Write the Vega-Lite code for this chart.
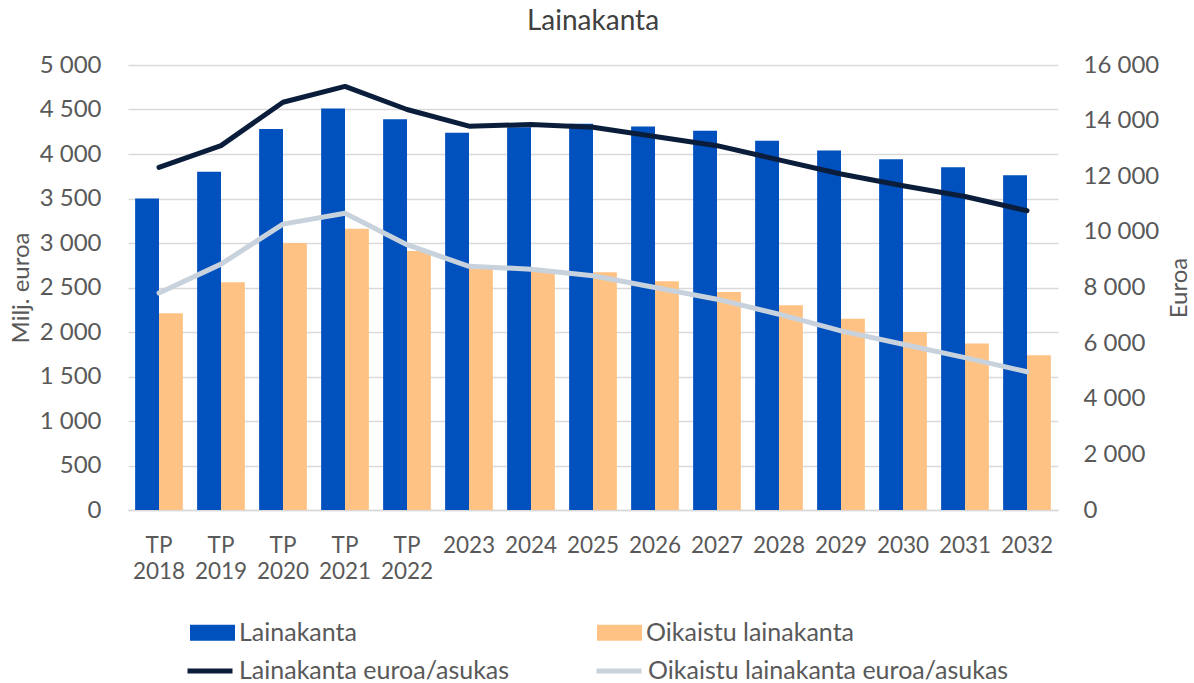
{
  "$schema": "https://vega.github.io/schema/vega-lite/v6.json",
  "width": 930,
  "height": 445,
  "autosize": {"type": "none"},
  "padding": {"left": 128, "top": 65, "right": 136, "bottom": 173},
  "title": {"text": "Lainakanta", "fontSize": 28, "font": "Lato", "fontWeight": "normal", "color": "#404040", "offset": 17, "anchor": "middle"},
  "config": {
    "locale": {"number": {"decimal": ",", "thousands": " ", "grouping": [3], "currency": ["", " €"]}},
    "view": {"stroke": null},
    "font": "Lato"
  },
  "data": {
    "values": [
      {"cat": "TP 2018", "Lainakanta": 3500, "Oikaistu lainakanta": 2210, "Lainakanta euroa/asukas": 12320, "Oikaistu lainakanta euroa/asukas": 7800},
      {"cat": "TP 2019", "Lainakanta": 3800, "Oikaistu lainakanta": 2560, "Lainakanta euroa/asukas": 13100, "Oikaistu lainakanta euroa/asukas": 8840},
      {"cat": "TP 2020", "Lainakanta": 4280, "Oikaistu lainakanta": 3000, "Lainakanta euroa/asukas": 14660, "Oikaistu lainakanta euroa/asukas": 10280},
      {"cat": "TP 2021", "Lainakanta": 4510, "Oikaistu lainakanta": 3160, "Lainakanta euroa/asukas": 15230, "Oikaistu lainakanta euroa/asukas": 10670},
      {"cat": "TP 2022", "Lainakanta": 4390, "Oikaistu lainakanta": 2910, "Lainakanta euroa/asukas": 14400, "Oikaistu lainakanta euroa/asukas": 9540},
      {"cat": "2023", "Lainakanta": 4240, "Oikaistu lainakanta": 2720, "Lainakanta euroa/asukas": 13800, "Oikaistu lainakanta euroa/asukas": 8760},
      {"cat": "2024", "Lainakanta": 4300, "Oikaistu lainakanta": 2700, "Lainakanta euroa/asukas": 13860, "Oikaistu lainakanta euroa/asukas": 8660},
      {"cat": "2025", "Lainakanta": 4340, "Oikaistu lainakanta": 2670, "Lainakanta euroa/asukas": 13760, "Oikaistu lainakanta euroa/asukas": 8420},
      {"cat": "2026", "Lainakanta": 4310, "Oikaistu lainakanta": 2570, "Lainakanta euroa/asukas": 13430, "Oikaistu lainakanta euroa/asukas": 8000},
      {"cat": "2027", "Lainakanta": 4260, "Oikaistu lainakanta": 2450, "Lainakanta euroa/asukas": 13100, "Oikaistu lainakanta euroa/asukas": 7580},
      {"cat": "2028", "Lainakanta": 4150, "Oikaistu lainakanta": 2300, "Lainakanta euroa/asukas": 12590, "Oikaistu lainakanta euroa/asukas": 7040},
      {"cat": "2029", "Lainakanta": 4040, "Oikaistu lainakanta": 2150, "Lainakanta euroa/asukas": 12080, "Oikaistu lainakanta euroa/asukas": 6440},
      {"cat": "2030", "Lainakanta": 3940, "Oikaistu lainakanta": 2000, "Lainakanta euroa/asukas": 11660, "Oikaistu lainakanta euroa/asukas": 5960},
      {"cat": "2031", "Lainakanta": 3850, "Oikaistu lainakanta": 1870, "Lainakanta euroa/asukas": 11270, "Oikaistu lainakanta euroa/asukas": 5480},
      {"cat": "2032", "Lainakanta": 3760, "Oikaistu lainakanta": 1740, "Lainakanta euroa/asukas": 10760, "Oikaistu lainakanta euroa/asukas": 4970}
    ]
  },
  "encoding": {
    "x": {
      "field": "cat", "type": "nominal", "sort": null,
      "scale": {"paddingInner": 0.23, "paddingOuter": 0.115},
      "axis": {"title": null, "labelExpr": "split(datum.value, ' ')", "labelAngle": 0, "labelFontSize": 22.5, "labelColor": "#595959", "labelFont": "Lato", "labelLineHeight": 26, "labelPadding": 24, "domain": true, "domainColor": "#D9D9D9", "domainWidth": 1.5, "ticks": false}
    }
  },
  "layer": [
    {
      "transform": [{"fold": ["Lainakanta", "Oikaistu lainakanta"], "as": ["sarja", "arvo"]}],
      "mark": {"type": "bar"},
      "encoding": {
        "xOffset": {"field": "sarja", "type": "nominal", "scale": {"domain": ["Lainakanta", "Oikaistu lainakanta"], "paddingInner": 0, "paddingOuter": 0}},
        "y": {
          "field": "arvo", "type": "quantitative",
          "scale": {"domain": [0, 5000], "nice": false},
          "axis": {"title": "Milj. euroa", "values": [0, 500, 1000, 1500, 2000, 2500, 3000, 3500, 4000, 4500, 5000], "format": ",d", "grid": true, "gridColor": "#D9D9D9", "gridWidth": 1.5, "domain": false, "ticks": false, "labelPadding": 27, "labelFontSize": 24, "labelColor": "#595959", "labelFont": "Lato", "titleFontSize": 24, "titleFont": "Lato", "titleFontWeight": "normal", "titleColor": "#595959", "titlePadding": 6}
        },
        "fill": {
          "field": "sarja", "type": "nominal",
          "scale": {"domain": ["Lainakanta", "Oikaistu lainakanta"], "range": ["#0050BE", "#FFC285"]},
          "legend": {"orient": "none", "legendX": 62, "legendY": 545, "direction": "horizontal", "columns": 2, "columnPadding": 240, "title": null, "padding": 0, "symbolType": "M-1,-0.36L1,-0.36L1,0.36L-1,0.36Z", "symbolSize": 2025, "symbolStrokeWidth": 0, "labelFontSize": 25, "labelFont": "Lato", "labelColor": "#595959", "labelOffset": 4, "labelLimit": 500}
        }
      }
    },
    {
      "transform": [{"fold": ["Lainakanta euroa/asukas", "Oikaistu lainakanta euroa/asukas"], "as": ["sarja2", "arvo2"]}],
      "mark": {"type": "line", "strokeWidth": 5, "strokeCap": "round", "strokeJoin": "round"},
      "encoding": {
        "y": {
          "field": "arvo2", "type": "quantitative",
          "scale": {"domain": [0, 16000], "nice": false},
          "axis": {"orient": "right", "title": "Euroa", "titleAngle": 270, "values": [0, 2000, 4000, 6000, 8000, 10000, 12000, 14000, 16000], "format": ",d", "grid": false, "domain": false, "ticks": false, "labelPadding": 25, "labelFontSize": 24, "labelColor": "#595959", "labelFont": "Lato", "titleFontSize": 24, "titleFont": "Lato", "titleFontWeight": "normal", "titleColor": "#595959", "titlePadding": 33}
        },
        "stroke": {
          "field": "sarja2", "type": "nominal",
          "scale": {"domain": ["Lainakanta euroa/asukas", "Oikaistu lainakanta euroa/asukas"], "range": ["#0A1E3C", "#C8D2DC"]},
          "legend": {"orient": "none", "legendX": 57, "legendY": 581, "direction": "horizontal", "columns": 2, "columnPadding": 76, "title": null, "padding": 0, "symbolType": "stroke", "symbolSize": 2025, "symbolStrokeWidth": 5, "labelFontSize": 25, "labelFont": "Lato", "labelColor": "#595959", "labelOffset": 4, "labelLimit": 500}
        }
      }
    }
  ],
  "resolve": {"scale": {"y": "independent", "fill": "independent", "stroke": "independent"}}
}
